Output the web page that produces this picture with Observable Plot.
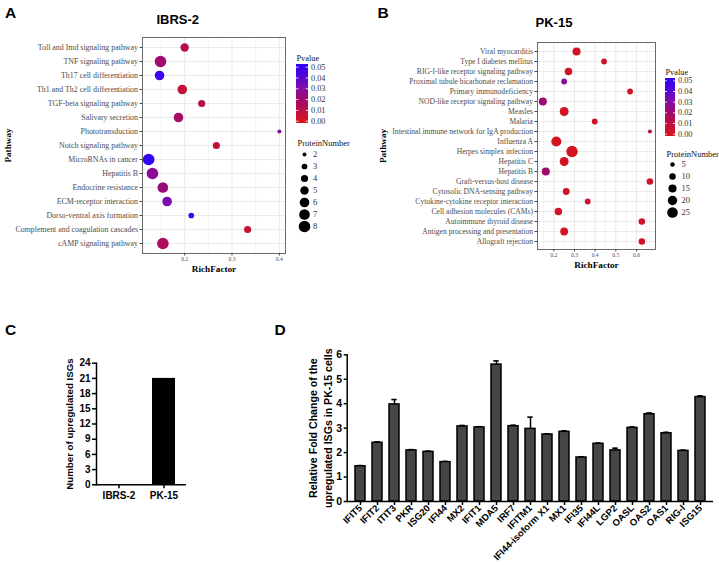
<!DOCTYPE html>
<html><head><meta charset="utf-8">
<script src="https://cdn.jsdelivr.net/npm/d3@7"></script>
<script src="https://cdn.jsdelivr.net/npm/@observablehq/plot@0.6"></script>
<style>
html,body{margin:0;padding:0;background:#fff;}
#root{position:relative;width:719px;height:565px;overflow:hidden;background:#fff;}
</style></head><body><div id="root"></div>
<script>
const sans = "'Liberation Sans', Arial, Helvetica, sans-serif";
const serif = "'Liberation Serif', 'Times New Roman', Times, serif";

// ---------- Panel A : IBRS-2 KEGG enrichment ----------
const pathwaysA = ["Toll and Imd signaling pathway","TNF signaling pathway","Th17 cell differentiation","Th1 and Th2 cell differentiation","TGF-beta signaling pathway","Salivary secretion","Phototransduction","Notch signaling pathway","MicroRNAs in cancer","Hepatitis B","Endocrine resistance","ECM-receptor interaction","Dorso-ventral axis formation","Complement and coagulation cascades","cAMP signaling pathway"];
const richFactorA = [0.200,0.149,0.147,0.195,0.236,0.187,0.400,0.267,0.124,0.132,0.154,0.163,0.214,0.333,0.154];
const proteinNumberA = [5,8,6,6,4,6,2,4,8,8,7,6,3,4,8];
const pvalueA = [0.012,0.020,0.048,0.007,0.012,0.017,0.030,0.006,0.050,0.027,0.022,0.032,0.045,0.005,0.015];
const xTicksA = [0.2,0.3,0.4];
const xMinorA = [0.15,0.25,0.35];
const sizeKeysA = [2,3,4,5,6,7,8];

// ---------- Panel B : PK-15 KEGG enrichment ----------
const pathwaysB = ["Viral myocarditis","Type I diabetes mellitus","RIG-I-like receptor signaling pathway","Proximal tubule bicarbonate reclamation","Primary immunodeficiency","NOD-like receptor signaling pathway","Measles","Malaria","Intestinal immune network for IgA production","Influenza A","Herpes simplex infection","Hepatitis C","Hepatitis B","Graft-versus-host disease","Cytosolic DNA-sensing pathway","Cytokine-cytokine receptor interaction","Cell adhesion molecules (CAMs)","Autoimmune thyroid disease","Antigen processing and presentation","Allograft rejection"];
const richFactorB = [0.310,0.443,0.271,0.250,0.569,0.147,0.250,0.398,0.665,0.212,0.288,0.250,0.161,0.665,0.260,0.364,0.222,0.626,0.250,0.626];
const proteinNumberB = [15,8,13,8,8,15,18,8,4,23,29,18,15,10,11,8,13,10,14,10];
const pvalueB = [0.001,0.003,0.002,0.028,0.002,0.022,0.0005,0.002,0.013,0.0002,0.0001,0.0005,0.020,0.003,0.002,0.003,0.001,0.003,0.0005,0.003];
const xTicksB = [0.2,0.3,0.4,0.5,0.6];
const xMinorB = [0.15,0.25,0.35,0.45,0.55,0.65];
const sizeKeysB = [5,10,15,20,25];

const pBreaks = [0,0.01,0.02,0.03,0.04,0.05];

// ---------- Panel C ----------
const groupsC = ["IBRS-2","PK-15"];
const countsC = [0,21];
const ticksC = [0,3,6,9,12,15,18,21,24];
const labelC = "Number of upregulated ISGs";

// ---------- Panel D ----------
const genesD = ["IFIT5","IFIT2","ITIT3","PKR","ISG20","IFI44","MX2","IFIT1","MDA5","IRF7","IFITM1","IFI44-isoform X1","MX1","IFI35","IFI44L","LGP2","OASL","OAS2","OAS1","RIG-I","ISG15"];
const foldD = [1.44,2.40,3.97,2.09,2.03,1.61,3.07,3.03,5.60,3.08,2.97,2.74,2.85,1.80,2.36,2.09,3.01,3.57,2.79,2.07,4.27];
const errD  = [0.03,0.04,0.20,0.03,0.03,0.03,0.04,0.03,0.15,0.04,0.48,0.02,0.04,0.03,0.03,0.09,0.04,0.05,0.04,0.03,0.05];
const ticksD = [0,1,2,3,4,5,6];
const labelD = "Relative Fold Change of the\nupregulated ISGs in PK-15 cells";

// ---------- shared scales ----------
const colorSpec = {type:"linear", domain:[0,0.01,0.02,0.03,0.04,0.05],
  range:["#d4141e","#bc0f48","#a00a6e","#820ea6","#5606d4","#3402f4"], clamp:true};
const rSpecA = {type:"sqrt", domain:[2,8], range:[2,5.8]};
const rSpecB = {type:"sqrt", domain:[4,29], range:[2,5.7]};
const gridCol = "#ebebeb";

const root = document.getElementById("root");
function place(node, left, top) {
  node.style.position = "absolute";
  node.style.left = left + "px";
  node.style.top = top + "px";
  root.appendChild(node);
}
function label(text, left, top, size, extra) {
  const d = document.createElement("div");
  d.textContent = text;
  Object.assign(d.style, {position:"absolute", left:left+"px", top:top+"px",
    font:`bold ${size}px ${sans}`, lineHeight:size+"px", whiteSpace:"nowrap", color:"#000"}, extra || {});
  root.appendChild(d);
}

function bubble(opts) {
  const {pathways, rf, n, pv, xDomain, ticks, minor, rSpec, width, height, mL, mR, mT, mB, fs, pad, yLabDx} = opts;
  const data = pathways.map((p,i)=>({p, rf:rf[i], n:n[i], pv:pv[i]}));
  return Plot.plot({
    width, height, marginLeft:mL, marginRight:mR, marginTop:mT, marginBottom:mB,
    style:{fontFamily:serif, background:"transparent", overflow:"visible"},
    x:{domain:xDomain},
    y:{type:"point", domain:pathways, padding:pad},
    r:rSpec,
    color:colorSpec,
    marks:[
      Plot.gridX({ticks:minor, stroke:gridCol, strokeOpacity:1, strokeWidth:0.6}),
      Plot.gridX({ticks:ticks, stroke:gridCol, strokeOpacity:1, strokeWidth:1.1}),
      Plot.gridY({stroke:gridCol, strokeOpacity:1, strokeWidth:1.1}),
      Plot.dot(data, {x:"rf", y:"p", r:"n", fill:"pv"}),
      Plot.frame({stroke:"#6a6a6a", strokeWidth:1}),
      Plot.axisY({tickSize:2.5, tickPadding:2, fontSize:fs, fill:"#4d4d4d", stroke:"#444", label:null}),
      Plot.axisX({ticks:ticks, tickFormat:d=>String(d), tickSize:2.5, tickPadding:1.5, fontSize:5.6, fill:"#4d4d4d", stroke:"#444", label:null}),
      Plot.text(["RichFactor"], {text:d=>d, frameAnchor:"bottom", textAnchor:"middle", lineAnchor:"middle", dy:15.5, fontWeight:"bold", fontSize:9.2, fill:"#000"}),
      Plot.text(["Pathway"], {text:d=>d, frameAnchor:"left", textAnchor:"middle", lineAnchor:"middle", dx:yLabDx, rotate:-90, fontWeight:"bold", fontSize:9.2, fill:"#000"})
    ]
  });
}

function pvalueLegend(left, top, barX0, barX1, y05, y00) {
  const steps = d3.range(-0.0025, 0.0525, 0.0005);
  return Plot.plot({
    width:60, height:85, margin:0,
    style:{fontFamily:serif, background:"transparent", overflow:"visible"},
    x:{domain:[0,1], range:[barX0-left, barX1-left], axis:null},
    y:{domain:[0,0.05], range:[y00-top, y05-top], axis:null},
    color:colorSpec,
    marks:[
      Plot.rect(steps, {x1:0, x2:1, y1:d=>d, y2:d=>Math.min(d+0.0015, 0.0525), fill:d=>d, shapeRendering:"crispEdges"}),
      Plot.ruleY(pBreaks, {x1:0, x2:0.2, stroke:"white", strokeWidth:0.8}),
      Plot.ruleY(pBreaks, {x1:0.8, x2:1, stroke:"white", strokeWidth:0.8}),
      Plot.text(pBreaks, {x:1, y:d=>d, text:d=>d.toFixed(2), dx:2.5, textAnchor:"start", fontSize:8.3, fill:"#333"}),
      Plot.text(["Pvalue"], {x:0, y:0.05, text:d=>d, dy:-8.8, textAnchor:"start", lineAnchor:"middle", fontSize:8.3, fill:"#111"})
    ]
  });
}

function sizeLegend(left, top, w, h, keys, rSpec, dotX, labelX, yFirst, yLast, titleX, titleY) {
  return Plot.plot({
    width:w, height:h, margin:0,
    style:{fontFamily:serif, background:"transparent", overflow:"visible"},
    x:{domain:[0,1], range:[dotX-left, labelX-left], axis:null},
    y:{type:"point", domain:keys, range:[yFirst-top, yLast-top], padding:0, axis:null},
    r:rSpec,
    marks:[
      Plot.dot(keys, {x:0, y:d=>d, r:d=>d, fill:"black"}),
      Plot.text(keys, {x:1, y:d=>d, text:d=>String(d), textAnchor:"start", fontSize:8.5, fill:"#333"}),
      Plot.text(["ProteinNumber"], {x:0, y:keys[0], text:d=>d, dx:titleX-dotX, dy:titleY-yFirst, textAnchor:"start", fontSize:8.5, fill:"#111"})
    ]
  });
}

// Panel A
place(bubble({pathways:pathwaysA, rf:richFactorA, n:proteinNumberA, pv:pvalueA,
  xDomain:[0.111,0.413], ticks:xTicksA, minor:xMinorA, rSpec:rSpecA,
  width:290, height:280, mL:142, mR:5, mT:37, mB:27, fs:7.9, pad:0.65, yLabDx:-134}), 0, 0);
place(pvalueLegend(288, 50, 296, 308, 66.7, 120.7), 288, 50);
place(sizeLegend(288, 130, 72, 110, sizeKeysA, rSpecA, 304, 312.5, 152, 228, 297, 140.7), 288, 130);

// Panel B
place(bubble({pathways:pathwaysB, rf:richFactorB, n:proteinNumberB, pv:pvalueB,
  xDomain:[0.121,0.692], ticks:xTicksB, minor:xMinorB, rSpec:rSpecB,
  width:300, height:280, mL:177, mR:5, mT:42, mB:31, fs:7.6, pad:0.55, yLabDx:-154}), 360, 0);
place(pvalueLegend(660, 62, 665, 675, 80.3, 133.7), 660, 62);
place(sizeLegend(660, 140, 59, 90, sizeKeysB, rSpecB, 672, 681, 163.3, 213.3, 666, 153), 660, 140);

// Panel C
{
  const data = groupsC.map((g,i)=>({g, v:countsC[i]}));
  place(Plot.plot({
    width:230, height:265, marginLeft:96, marginRight:44, marginTop:62.7, marginBottom:80.7,
    style:{fontFamily:sans, fontWeight:"bold", background:"transparent", overflow:"visible"},
    x:{domain:groupsC, paddingInner:0.48, paddingOuter:0.24},
    y:{domain:[0,24]},
    marks:[
      Plot.barY(data, {x:"g", y:"v", fill:"black"}),
      Plot.ruleY([0], {strokeWidth:1.5}),
      Plot.frame({anchor:"left", strokeWidth:1.5}),
      Plot.axisY({ticks:ticksC, tickFormat:d=>String(d), tickSize:4, tickPadding:2, fontSize:10, fontWeight:"bold", strokeWidth:1.5, label:null}),
      Plot.axisX({tickSize:4, tickPadding:3, fontSize:10, fontWeight:"bold", strokeWidth:1.5, label:null}),
      Plot.text([labelC], {text:d=>d, frameAnchor:"left", textAnchor:"middle", lineAnchor:"middle", dx:-27, rotate:-90, fontSize:9.7, fontWeight:"bold"})
    ]
  }), 0, 300);
}

// Panel D
{
  const data = genesD.map((g,i)=>({g, v:foldD[i], e:errD[i]}));
  place(Plot.plot({
    width:489, height:265, marginLeft:116.7, marginRight:6, marginTop:54.3, marginBottom:64,
    style:{fontFamily:sans, fontWeight:"bold", background:"transparent", overflow:"visible"},
    x:{domain:genesD, paddingInner:0.4, paddingOuter:0.2},
    y:{domain:[0,6]},
    marks:[
      Plot.ruleX(data, {x:"g", y1:"v", y2:d=>d.v+d.e, strokeWidth:1.5}),
      Plot.tickY(data, {x:"g", y:d=>d.v+d.e, strokeWidth:1.6, insetLeft:2.3, insetRight:2.3}),
      Plot.barY(data, {x:"g", y:"v", fill:"#464646", stroke:"black", strokeWidth:1.5}),
      Plot.ruleY([0], {strokeWidth:1.5}),
      Plot.frame({anchor:"left", strokeWidth:1.5}),
      Plot.axisY({ticks:ticksD, tickFormat:d=>String(d), tickSize:3, tickPadding:2, fontSize:10.5, fontWeight:"bold", strokeWidth:1.5, label:null}),
      Plot.axisX({tickRotate:-45, tickSize:4, tickPadding:1, fontSize:9.5, fontWeight:"bold", strokeWidth:1.5, label:null}),
      Plot.text([labelD], {text:d=>d, frameAnchor:"left", textAnchor:"middle", lineAnchor:"middle", dx:-27.5, rotate:-90, fontSize:10.6, fontWeight:"bold", lineHeight:1.42})
    ]
  }), 230, 300);
}

// Panel letters and titles
label("A", 5, 5.2, 15.5);
label("B", 377.5, 5.2, 15.5);
label("C", 5, 321.9, 15.5);
label("D", 274.5, 321.9, 15.5);
label("IBRS-2", 117.7, 13, 13, {width:"120px", textAlign:"center"});
label("PK-15", 494, 16, 13, {width:"120px", textAlign:"center"});
</script>
</body></html>
